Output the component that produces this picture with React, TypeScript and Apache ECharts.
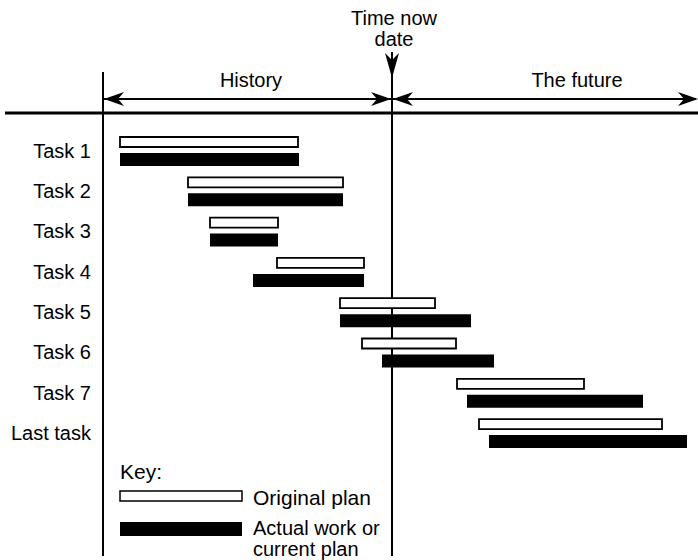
import React, { useEffect, useRef } from "react";
import * as echarts from "echarts";

const tasks = ["Task 1", "Task 2", "Task 3", "Task 4", "Task 5", "Task 6", "Task 7", "Last task"];
const planStart = [1.7, 8.5, 10.7, 17.4, 23.7, 25.9, 35.4, 37.6];
const planEnd = [19.5, 24.0, 17.5, 26.1, 33.2, 35.3, 48.1, 55.9];
const actualStart = [1.7, 8.5, 10.7, 15.0, 23.7, 27.9, 36.4, 38.6];
const actualEnd = [19.6, 24.0, 17.5, 26.1, 36.8, 39.1, 54.0, 58.4];
const timeNow = 28.9;
const axisMin = 0;
const axisMax = 59.5;

const FONT = '"Liberation Sans", Arial, Helvetica, sans-serif';

export default function App() {
  const ref = useRef<HTMLDivElement>(null);

  useEffect(() => {
    if (!ref.current) return;
    const chart = echarts.init(ref.current, undefined, { renderer: "svg" });

    const planData = tasks.map((_, i) => [i, planStart[i], planEnd[i]]);
    const actualData = tasks.map((_, i) => [i, actualStart[i], actualEnd[i]]);

    const renderPlan = (params: any, api: any) => {
      const idx = api.value(0);
      const s = api.coord([api.value(1), idx]);
      const e = api.coord([api.value(2), idx]);
      return {
        type: "rect",
        shape: { x: s[0], y: s[1] - 8.75 - 5, width: e[0] - s[0], height: 10 },
        style: { fill: "#fff", stroke: "#000", lineWidth: 1.8 },
      };
    };
    const renderActual = (params: any, api: any) => {
      const idx = api.value(0);
      const s = api.coord([api.value(1), idx]);
      const e = api.coord([api.value(2), idx]);
      return {
        type: "rect",
        shape: { x: s[0], y: s[1] + 8.75 - 6.5, width: e[0] - s[0], height: 13 },
        style: { fill: "#000" },
      };
    };

    chart.setOption({
      animation: false,
      backgroundColor: "#fff",
      grid: { left: 103, right: 0, top: 130.6, bottom: 107 },
      xAxis: { type: "value", min: axisMin, max: axisMax, show: false },
      yAxis: {
        type: "category",
        data: tasks,
        inverse: true,
        axisLine: { show: false },
        axisTick: { show: false },
        splitLine: { show: false },
        axisLabel: { fontSize: 20, color: "#000", fontFamily: FONT, margin: 12 },
      },
      series: [
        {
          type: "custom",
          name: "Original plan",
          renderItem: renderPlan,
          encode: { y: 0, x: [1, 2] },
          data: planData,
        },
        {
          type: "custom",
          name: "Actual work or current plan",
          renderItem: renderActual,
          encode: { y: 0, x: [1, 2] },
          data: actualData,
        },
      ],
    });

    const x0 = chart.convertToPixel({ xAxisIndex: 0 }, axisMin) as number;
    const xn = chart.convertToPixel({ xAxisIndex: 0 }, timeNow) as number;
    const ay = 99;

    const line = (x1: number, y1: number, x2: number, y2: number, w: number) => ({
      type: "line",
      shape: { x1, y1, x2, y2 },
      style: { stroke: "#000", lineWidth: w },
    });
    const poly = (pts: number[][]) => ({
      type: "polygon",
      shape: { points: pts },
      style: { fill: "#000" },
    });
    const text = (t: string, x: number, y: number, align: string, size = 20) => ({
      type: "text",
      style: {
        text: t,
        x,
        y,
        textAlign: align,
        textVerticalAlign: "middle",
        textBaseline: "middle",
        fontSize: size,
        fontFamily: FONT,
        fill: "#000",
      },
    });

    chart.setOption({
      graphic: [
        line(x0, 72, x0, 556, 2),
        line(xn, 52, xn, 556, 2),
        line(5, 113, 698, 113, 3),
        line(x0, ay, 696, ay, 2),
        poly([[x0 + 1, ay], [x0 + 21, ay - 7], [x0 + 15, ay], [x0 + 21, ay + 7]]),
        poly([[xn - 1, ay], [xn - 21, ay - 7], [xn - 15, ay], [xn - 21, ay + 7]]),
        poly([[xn + 1, ay], [xn + 21, ay - 7], [xn + 15, ay], [xn + 21, ay + 7]]),
        poly([[698, ay], [678, ay - 7], [684, ay], [678, ay + 7]]),
        poly([[xn, 78], [xn - 7, 53], [xn, 60], [xn + 7, 53]]),
        text("Time now", xn + 2, 18, "center"),
        text("date", xn + 2, 39, "center"),
        text("History", 251, 80, "center"),
        text("The future", 577, 80, "center"),
        text("Key:", 120, 471, "left", 21),
        { type: "rect", shape: { x: 120, y: 491, width: 122, height: 10 }, style: { fill: "#fff", stroke: "#000", lineWidth: 1.5 } },
        { type: "rect", shape: { x: 120, y: 522, width: 122, height: 14 }, style: { fill: "#000" } },
        text("Original plan", 253, 497, "left", 21),
        text("Actual work or", 253, 528, "left", 20),
        text("current plan", 253, 549, "left", 20),
      ],
    });

    return () => chart.dispose();
  }, []);

  return (
    <div
      ref={ref}
      style={{ position: "fixed", left: 0, top: 0, width: 698, height: 560, background: "#fff" }}
    />
  );
}
